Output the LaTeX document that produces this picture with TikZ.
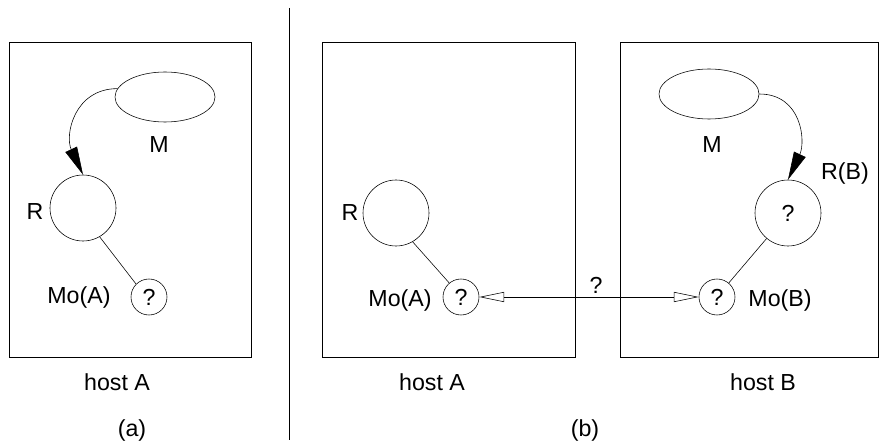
\documentclass[tikz,border=0pt]{standalone}
\usepackage{fontspec}
\setmainfont{Liberation Sans}
\usetikzlibrary{arrows.meta,shapes.geometric}

\begin{document}
\begin{tikzpicture}[
  x=0.025cm, y=-0.025cm,
  every node/.style={font=\fontsize{16.5}{19}\selectfont},
  bigc/.style={circle,draw,minimum size=1.65cm,inner sep=0pt},
  smallc/.style={circle,draw,minimum size=0.9cm,inner sep=0pt},
  msg/.style={ellipse,draw,minimum width=2.5cm,minimum height=1.25cm,inner sep=0pt},
  hostbox/.style={draw,minimum height=7.875cm,inner sep=0pt},
  move/.style={-{Triangle[length=0.7cm,width=0.32cm]}},
  ask/.style={{Triangle[open,length=0.62cm,width=0.25cm]}-{Triangle[open,length=0.62cm,width=0.25cm]}}
]
  \useasboundingbox (0,0) rectangle (888,445);

  % (a)
  \begin{scope}
    \node[hostbox,minimum width=6.05cm] (ha) at (130,199.5) {};
    \node[msg] (ma) at (165,97) {};
    \node (mla) at (159,145) {M};
    \node[bigc] (ra) at (83,208) {};
    \node (rla) at (35,212) {R};
    \node[smallc] (moa) at (149,297) {?};
    \node (mola) at (79,297) {Mo(A)};
    \draw[move] (ma.170) to[out=180,in=115,looseness=1.2] (ra.north);
    \draw (ra.-60) -- (moa.135);
    \node (hla) at (117,382) {host A};
    \node (capa) at (132,430) {(a)};
  \end{scope}

  \coordinate (divt) at (289,8);
  \coordinate (divb) at (289,440);
  \draw (divt) -- (divb);

  % (b)
  \begin{scope}
    \node[hostbox,minimum width=6.325cm] (hb1) at (448.5,199.5) {};
    \node[bigc] (rb1) at (396,213) {};
    \node (rlb1) at (350,213) {R};
    \node[smallc] (mob1) at (461,297) {?};
    \node (molb1) at (400,300) {Mo(A)};
    \draw (rb1.-60) -- (mob1.130);
    \node (hlb1) at (432,382) {host A};

    \node[hostbox,minimum width=6.45cm] (hb2) at (749,199.5) {};
    \node[msg] (mb2) at (709,94) {};
    \node (mlb2) at (712,145) {M};
    \node[bigc] (rb2) at (788,213) {?};
    \node (rlb2) at (845,173) {R(B)};
    \node[smallc] (mob2) at (717,297) {?};
    \node (molb2) at (780,300) {Mo(B)};
    \draw[move] (mb2.east) to[out=0,in=65,looseness=1.2] (rb2.north);
    \draw (rb2.-130) -- (mob2.50);
    \node (hlb2) at (763,382) {host B};

    \draw[ask] (mob1.east) -- (mob2.west);
    \node (qb) at (596,285) {?};
    \node (capb) at (585,430) {(b)};
  \end{scope}
\end{tikzpicture}
\end{document}
